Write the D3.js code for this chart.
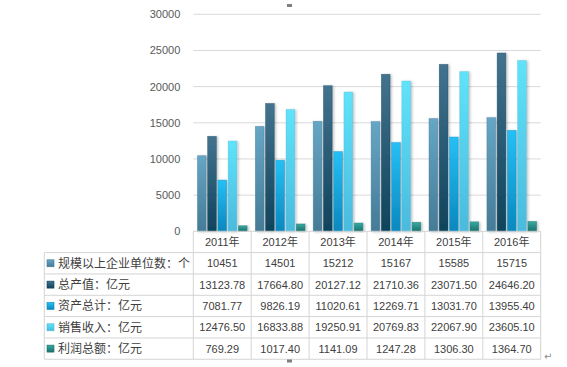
<!DOCTYPE html>
<html>
<head>
<meta charset="utf-8">
<script src="https://cdn.jsdelivr.net/npm/d3@7"></script>
<style>
  body { margin: 0; background: #fff; }
  svg { display: block; font-family: "Liberation Sans", "Noto Sans CJK SC", sans-serif; }
</style>
</head>
<body>
<script>
// chart data
var years = ["2011年", "2012年", "2013年", "2014年", "2015年", "2016年"];
var seriesNames = ["规模以上企业单位数：个", "总产值：亿元", "资产总计：亿元", "销售收入：亿元", "利润总额：亿元"];
var units = [10451, 14501, 15212, 15167, 15585, 15715];
var output = [13123.78, 17664.80, 20127.12, 21710.36, 23071.50, 24646.20];
var assets = [7081.77, 9826.19, 11020.61, 12269.71, 13031.70, 13955.40];
var sales = [12476.50, 16833.88, 19250.91, 20769.83, 22067.90, 23605.10];
var profit = [769.29, 1017.40, 1141.09, 1247.28, 1306.30, 1364.70];
var yTicks = [0, 5000, 10000, 15000, 20000, 25000, 30000];

var series = [units, output, assets, sales, profit];
var colors = [
  ["#66a6c6", "#457b96"],
  ["#43738f", "#0f435c"],
  ["#25c0f6", "#0a88be"],
  ["#5fe3fa", "#4bbadd"],
  ["#37aaa2", "#1b716d"]
];

var width = 567, height = 367;
var plotLeft = 193.3, plotRight = 540.7, plotTop = 14.3, plotBottom = 231.3;
var tableLeft = 44.3, rowH = 21.33;

var svg = d3.select("body").append("svg")
  .attr("width", width)
  .attr("height", height);

var defs = svg.append("defs");
colors.forEach(function(c, i) {
  var g = defs.append("linearGradient")
    .attr("id", "grad" + i)
    .attr("x1", 0).attr("y1", 0).attr("x2", 0).attr("y2", 1);
  g.append("stop").attr("offset", "0%").attr("stop-color", c[0]);
  g.append("stop").attr("offset", "100%").attr("stop-color", c[1]);
});
var f = defs.append("filter").attr("id", "shadow")
  .attr("x", "-50%").attr("y", "-10%").attr("width", "200%").attr("height", "120%");
f.append("feDropShadow").attr("dx", 1.5).attr("dy", 0.5).attr("stdDeviation", 0.8)
  .attr("flood-color", "#000").attr("flood-opacity", 0.25);

var x = d3.scaleBand().domain(years).range([plotLeft, plotRight]);
var xi = d3.scaleBand().domain(d3.range(series.length))
  .range([0, x.bandwidth()]).paddingInner(0.15).paddingOuter(0.4);
var y = d3.scaleLinear().domain([0, 30000]).range([plotBottom, plotTop]);

// gridlines
svg.append("g").selectAll("line")
  .data(yTicks.filter(function(d) { return d > 0; }))
  .enter().append("line")
  .attr("x1", plotLeft).attr("x2", plotRight)
  .attr("y1", function(d) { return y(d); })
  .attr("y2", function(d) { return y(d); })
  .attr("stroke", "#d9d9d9").attr("stroke-width", 1);

// y axis labels
var yAxis = svg.append("g")
  .attr("transform", "translate(" + (plotLeft - 7) + ",0)")
  .call(d3.axisLeft(y).tickValues(yTicks).tickSize(0).tickPadding(6).tickFormat(d3.format("d")));
yAxis.select(".domain").remove();
yAxis.selectAll("text").attr("fill", "#595959").style("font-size", "11px")
  .style("font-family", "Liberation Sans");

// bars
var groups = svg.append("g").selectAll("g")
  .data(series)
  .enter().append("g")
  .attr("fill", function(d, i) { return "url(#grad" + i + ")"; });

groups.each(function(vals, si) {
  d3.select(this).selectAll("rect")
    .data(vals)
    .enter().append("rect")
    .attr("x", function(d, j) { return x(years[j]) + xi(si); })
    .attr("y", function(d) { return y(d); })
    .attr("width", xi.bandwidth())
    .attr("height", function(d) { return plotBottom - y(d); })
    .attr("stroke", colors[si][1])
    .attr("stroke-opacity", 0.6)
    .attr("stroke-width", 0.6)
    .attr("filter", "url(#shadow)");
});

// data table
var tbl = svg.append("g");
var lineColor = "#d4d4d4";
var tableTop = plotBottom + rowH; // first data row top
var tableBottom = tableTop + rowH * series.length;

// x axis line (top of year row)
tbl.append("line").attr("x1", plotLeft).attr("x2", plotRight)
  .attr("y1", plotBottom).attr("y2", plotBottom).attr("stroke", lineColor);

// horizontal row lines
tbl.selectAll(".hline")
  .data(d3.range(series.length + 1))
  .enter().append("line")
  .attr("x1", tableLeft).attr("x2", plotRight)
  .attr("y1", function(d) { return tableTop + d * rowH; })
  .attr("y2", function(d) { return tableTop + d * rowH; })
  .attr("stroke", lineColor);

// vertical lines
var vx = [plotLeft].concat(years.map(function(d) { return x(d) + x.bandwidth(); }));
tbl.selectAll(".vline")
  .data(vx)
  .enter().append("line")
  .attr("x1", function(d) { return d; }).attr("x2", function(d) { return d; })
  .attr("y1", plotBottom).attr("y2", tableBottom)
  .attr("stroke", lineColor);
tbl.append("line").attr("x1", tableLeft).attr("x2", tableLeft)
  .attr("y1", tableTop).attr("y2", tableBottom).attr("stroke", lineColor);

// year labels
tbl.selectAll(".year")
  .data(years)
  .enter().append("text")
  .attr("x", function(d) { return x(d) + x.bandwidth() / 2; })
  .attr("y", plotBottom + rowH / 2)
  .attr("dy", "0.36em")
  .attr("text-anchor", "middle")
  .attr("fill", "#404040")
  .style("font-size", "11px")
  .text(function(d) { return d; });

// legend keys + names
var rows = tbl.selectAll(".row")
  .data(seriesNames)
  .enter().append("g")
  .attr("transform", function(d, i) { return "translate(0," + (tableTop + i * rowH + rowH / 2) + ")"; });
rows.append("rect")
  .attr("x", 47).attr("y", -3.5).attr("width", 7).attr("height", 7)
  .attr("fill", function(d, i) { return "url(#grad" + i + ")"; })
  .attr("stroke", function(d, i) { return colors[i][1]; })
  .attr("stroke-width", 0.6);
rows.append("text")
  .attr("x", 58).attr("dy", "0.36em")
  .attr("fill", "#404040")
  .style("font-size", "12px")
  .style("font-family", "Noto Sans CJK SC")
  .text(function(d) { return d; });

// cell values
series.forEach(function(vals, si) {
  var fmt = si === 0 ? d3.format("d") : d3.format(".2f");
  tbl.selectAll(".cell" + si)
    .data(vals)
    .enter().append("text")
    .attr("x", function(d, j) { return x(years[j]) + x.bandwidth() / 2; })
    .attr("y", tableTop + si * rowH + rowH / 2)
    .attr("dy", "0.36em")
    .attr("text-anchor", "middle")
    .attr("fill", "#404040")
    .style("font-size", "11px")
    .text(function(d) { return fmt(d); });
});

// word layout marks
svg.append("rect").attr("x", 287).attr("y", 4).attr("width", 5).attr("height", 3).attr("fill", "#7f7f7f");
svg.append("rect").attr("x", 287).attr("y", 359.5).attr("width", 5).attr("height", 3).attr("fill", "#7f7f7f");
svg.append("text").attr("x", 544).attr("y", 360)
  .attr("fill", "#8c8c8c").style("font-size", "10px").style("font-family", "DejaVu Sans")
  .text("↵");
</script>
</body>
</html>
